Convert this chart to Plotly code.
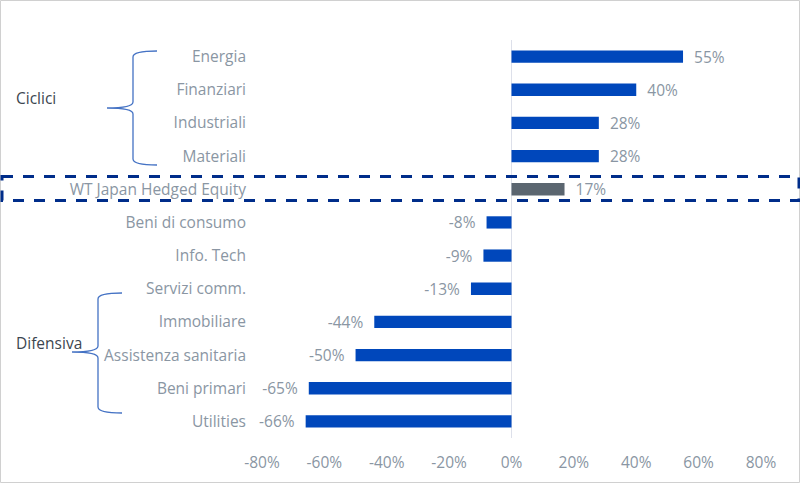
import plotly.graph_objects as go

categories = ["Energia", "Finanziari", "Industriali", "Materiali", "WT Japan Hedged Equity",
              "Beni di consumo", "Info. Tech", "Servizi comm.", "Immobiliare",
              "Assistenza sanitaria", "Beni primari", "Utilities"]
values = [55, 40, 28, 28, 17, -8, -9, -13, -44, -50, -65, -66]
highlight = "WT Japan Hedged Equity"
tick_vals = [-80, -60, -40, -20, 0, 20, 40, 60, 80]
tick_text = ["-80%", "-60%", "-40%", "-20%", "0%", "20%", "40%", "60%", "80%"]
group_labels = ["Ciclici", "Difensiva"]

W, H = 800, 484
L, R, T, B = 262, 39, 40, 46
PW, PH = W - L - R, H - T - B

def px(x):
    return (x - L) / PW

def py(y):
    return (H - B - y) / PH

BLUE = "#0047BB"
GREY_BAR = "#5B6670"
LABEL = "#8A96A3"
FONT = "Open Sans"
FS = 15.5
NB = "\u00a0"

colors = [GREY_BAR if c == highlight else BLUE for c in categories]
labels = [(NB * 2 + f"{v}%") if v >= 0 else (f"{v}%" + NB * 2) for v in values]

fig = go.Figure(go.Bar(
    x=values, y=categories, orientation="h",
    marker=dict(color=colors, line=dict(width=0)),
    text=labels, textposition="outside",
    textfont=dict(color=LABEL, size=FS, family=FONT),
    constraintext="none",
    cliponaxis=False,
    hoverinfo="skip",
))

def brace(x_end, x_mid, x_tip, y_top, y_tip, y_bot):
    r = 6
    pts = (f"M {px(x_end)},{py(y_top)} "
           f"Q {px(x_mid)},{py(y_top)} {px(x_mid)},{py(y_top + r)} "
           f"L {px(x_mid)},{py(y_tip - r)} "
           f"Q {px(x_mid)},{py(y_tip)} {px(x_tip)},{py(y_tip)} "
           f"Q {px(x_mid)},{py(y_tip)} {px(x_mid)},{py(y_tip + r)} "
           f"L {px(x_mid)},{py(y_bot - r)} "
           f"Q {px(x_mid)},{py(y_bot)} {px(x_end)},{py(y_bot)}")
    return dict(type="path", xref="paper", yref="paper", path=pts,
                line=dict(color="#4472C4", width=1.3))

shapes = [
    dict(type="rect", xref="paper", yref="paper",
         x0=px(0.5), x1=px(799.5), y0=py(0.5), y1=py(482.5),
         line=dict(color="#D0D0D0", width=1), fillcolor="rgba(0,0,0,0)", layer="below"),
    dict(type="rect", xref="paper", yref="paper",
         x0=px(2), x1=px(799), y0=py(176.5), y1=py(200.5),
         line=dict(color="#002D8A", width=3, dash="11px,10px"), fillcolor="rgba(0,0,0,0)"),
    brace(157, 133, 107, 51, 108, 165),
    brace(122, 98, 72, 293, 352, 413),
]

annotations = [
    dict(text=group_labels[0], xref="paper", yref="paper", x=px(14), y=py(98),
         xanchor="left", yanchor="middle", showarrow=False,
         font=dict(color="#3C4650", size=FS, family=FONT)),
    dict(text=group_labels[1], xref="paper", yref="paper", x=px(14), y=py(343),
         xanchor="left", yanchor="middle", showarrow=False,
         font=dict(color="#3C4650", size=FS, family=FONT)),
]

fig.update_layout(
    width=W, height=H,
    margin=dict(l=L, r=R, t=T, b=B),
    paper_bgcolor="white", plot_bgcolor="white",
    showlegend=False,
    bargap=0.63,
    shapes=shapes, annotations=annotations,
    font=dict(family=FONT, color=LABEL, size=FS),
    xaxis=dict(range=[-80, 80], tickvals=tick_vals, ticktext=tick_text,
               showgrid=False, zeroline=True, zerolinecolor="#DDE0EA", zerolinewidth=1,
               showline=False, ticks="", tickfont=dict(color=LABEL, size=FS, family=FONT),
               ticklabelstandoff=13),
    yaxis=dict(categoryorder="array", categoryarray=categories, autorange="reversed",
               showgrid=False, showline=False, ticks="",
               tickfont=dict(color=LABEL, size=FS, family=FONT),
               ticklabelstandoff=15),
)

fig.write_html("out.html", config={"displayModeBar": False},
               post_script="document.body.style.margin='0';")
